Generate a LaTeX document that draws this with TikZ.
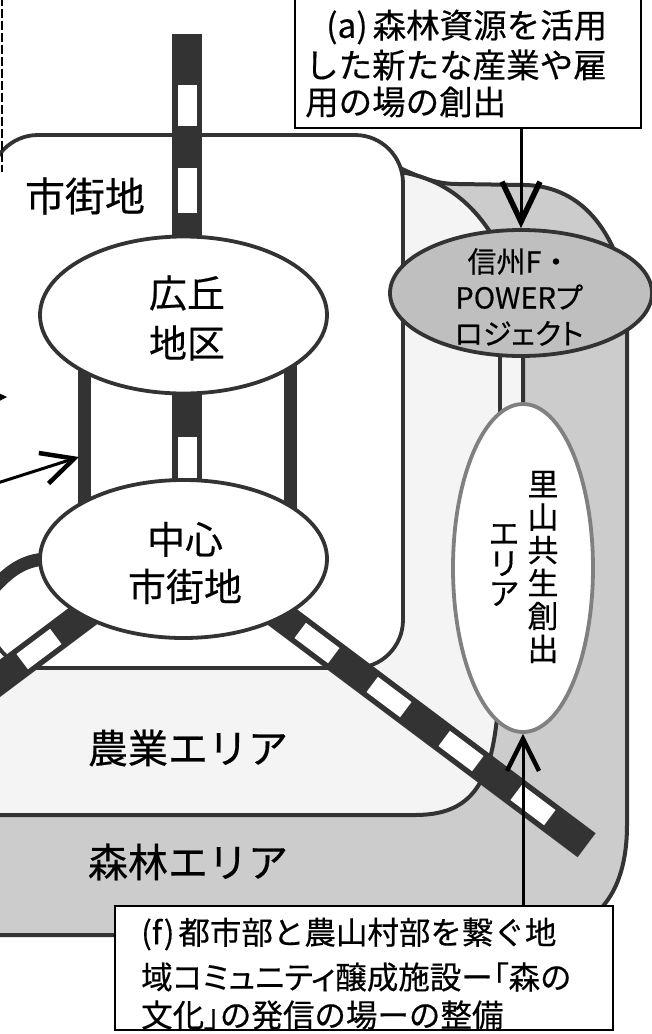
\documentclass[tikz,border=0pt]{standalone}
\usepackage{fontspec}
\newfontfamily\jpm[FakeBold=0.4]{Noto Sans CJK JP}
\newfontfamily\jpp[FakeBold=0.4,RawFeature=+palt]{Noto Sans CJK JP}
\usetikzlibrary{arrows.meta,shapes.geometric,calc}
\pgfdeclarelayer{regions}
\pgfdeclarelayer{roads}
\pgfsetlayers{regions,roads,main}
\newcommand\setfs[2]{\fontsize{#1}{#2}\selectfont}
\definecolor{forest}{gray}{0.8}
\definecolor{farm}{gray}{0.955}
\definecolor{powfill}{gray}{0.75}
\definecolor{roadc}{gray}{0.2}
\definecolor{edgec}{gray}{0.2}
\tikzset{
 regionline/.style={draw=edgec, line width=4pt, line join=round},
 ell/.style={ellipse, draw=edgec, line width=3.8pt, fill=white, inner sep=0pt},
 box/.style={rectangle, draw=black, line width=2.4pt, fill=white, inner sep=0pt},
 txt/.style={inner sep=0pt, text=black, align=center},
 road/.style={draw=roadc, line width=13pt},
 rail/.style={draw=roadc, line width=30pt},
 railw/.style={draw=white, line width=19pt},
 arrline/.style={draw=black, line width=3pt},
 bigtip/.style={-{Straight Barb[length=40pt,width=38pt,line width=5.5pt]}},
 smalltip/.style={-{Straight Barb[length=32pt,width=32pt,line width=4.5pt]}},
 dashln/.style={draw=black, line width=2.8pt, dash pattern=on 9pt off 3pt},
}
\begin{document}
\begin{tikzpicture}[x=1pt,y=-1pt]
\useasboundingbox (0,0) rectangle (652,1034);

% ellipses
\node[ell, minimum width=287pt, minimum height=157pt] (hiro) at (183.5,315) {};
\node[ell, minimum width=287pt, minimum height=158pt] (chushin) at (183.5,559) {};
\node[ell, fill=powfill, minimum width=262pt, minimum height=126pt] (power) at (521,293) {};
\node[ell, draw=black!50, minimum width=140pt, minimum height=328pt] (sato) at (523,568) {};

% regions
\begin{pgfonlayer}{regions}
\fill[white] (0,0) rectangle (652,1034);
\draw[regionline, fill=forest] (-30,168) -- (400,168) .. controls (425,180) and (440,184) .. (458,184) -- (525,185) .. controls (570,186) and (610,215) .. (627,290) -- (627,825) .. controls (627,895) and (595,935) .. (530,935) -- (-30,935) -- cycle;
\draw[regionline, fill=farm] (-30,172) -- (400,172) .. controls (440,178) and (470,200) .. (492,235) -- (523,300) -- (523,500) -- (497,718) .. controls (490,785) and (470,815) .. (415,815) -- (-30,815) -- cycle;
\node[draw=edgec, line width=3.8pt, fill=white, rounded corners=48pt, minimum width=413pt, minimum height=533pt, inner sep=0pt] (shigaiarea) at (196.5,401.5) {};
\end{pgfonlayer}

% roads and railways
\begin{pgfonlayer}{roads}
\coordinate (railtop) at (187,34);
\draw[rail] (railtop) -- (hiro.center -| railtop);
\draw[railw] (187,85) -- (187,126);
\draw[railw] (187,168) -- (187,213);
\draw[rail] (hiro.center -| railtop) -- (chushin.center -| railtop);
\draw[railw] (187,437) -- (187,478);
\draw[road] ([xshift=-99.5pt]hiro.center) -- ([xshift=-99.5pt]chushin.center);
\draw[road] ([xshift=106.5pt]hiro.center) -- ([xshift=106.5pt]chushin.center);
\coordinate (ringend) at (-15,598);
\draw[road] ([xshift=15pt]chushin.west) .. controls (25,558) and (8,570) .. (ringend);
\coordinate (llA) at (123,586);
\coordinate (llB) at (-45,712);
\draw[rail] (llA) -- (llB);
\draw[railw] (55.8,636.4) -- (22.2,661.6);
\coordinate (lrA) at (249,592);
\coordinate (lrB) at (586.6,845.2);
\draw[rail] (lrA) -- (lrB);
\draw[railw] (300.2,630.4) -- (333.8,655.6);
\draw[railw] (372.2,684.4) -- (405.8,709.6);
\draw[railw] (444.2,738.4) -- (477.8,763.6);
\draw[railw] (516.2,792.4) -- (549.8,817.6);
\coordinate (bandtop) at (500,345);
\coordinate (bandbot) at (500,418);
\draw[regionline] (bandtop) -- (bandbot);
\end{pgfonlayer}

% labels
\node[txt, font=\jpm\setfs{40}{44}] (shigailbl) at (85,196) {市街地};
\node[txt, font=\jpm\setfs{38}{50}] (hirolbl) at (187,318) {広丘\\地区};
\node[txt, font=\jpm\setfs{38}{47}] (chulbl) at (185,563) {中心\\市街地};
\node[txt, font=\setfs{29}{36}] (powlbl) at (519,297) {{\jpm 信州F・}\\{\jpp POWERプ}\\{\jpp ロジェクト}};
\node[txt, font=\jpm\setfs{31}{33}] (satoR) at (543,567) {里\\山\\共\\生\\創\\出};
\node[txt, font=\jpm\setfs{31}{30}] (satoL) at (504,565) {エ\\リ\\ア};
\node[txt, font=\jpm\setfs{40}{44}] (nogyolbl) at (188,748) {農業エリア};
\node[txt, font=\jpm\setfs{40}{44}] (shinrinlbl) at (188,862) {森林エリア};

% box (a)
\node[box, minimum width=346pt, minimum height=140pt] (boxa) at (468,58) {};
\node[txt, anchor=west, font=\jpm\setfs{33.5}{38}] (a1) at (326,27) {(a)\hspace{5pt}森林資源を活用};
\node[txt, anchor=west, font=\jpm\setfs{33.5}{38}] (a2) at (305,65) {した新たな産業や雇};
\node[txt, anchor=west, font=\jpm\setfs{33.5}{38}] (a3) at (305,102) {用の場の創出};

% box (f)
\node[box, minimum width=498pt, minimum height=124pt] (boxf) at (364,968) {};
\node[txt, anchor=west, font=\jpm\setfs{31.5}{36}] (f1) at (141,934) {(f)\hspace{4pt}都市部と農山村部を繋ぐ地};
\node[txt, anchor=west, font=\jpm\setfs{31.5}{36}] (f2) at (141,977) {域{\jpp コミュニティ}醸成施設ー{\jpp 「}森の};
\node[txt, anchor=west, font=\jpm\setfs{31.5}{36}] (f3) at (141,1015) {文化{\jpp 」}の発信の場ーの整備};

% arrows
\draw[arrline, bigtip] (boxa.south -| power.north) -- (power.north);
\draw[arrline, smalltip] (boxf.north -| sato.south) -- (sato.south);
\coordinate (lefttail) at (-15,487);
\coordinate (lefttip) at (79,457);
\draw[arrline, smalltip] (lefttail) -- (lefttip);
\coordinate (lefttail2) at (-45,398);
\coordinate (lefttip2) at (7,397);
\draw[arrline, smalltip] (lefttail2) -- (lefttip2);

% dashed edge at top left
\coordinate (dtop) at (2,-3);
\coordinate (dbot) at (2,172);
\draw[dashln] (dtop) -- (dbot);
\end{tikzpicture}
\end{document}
